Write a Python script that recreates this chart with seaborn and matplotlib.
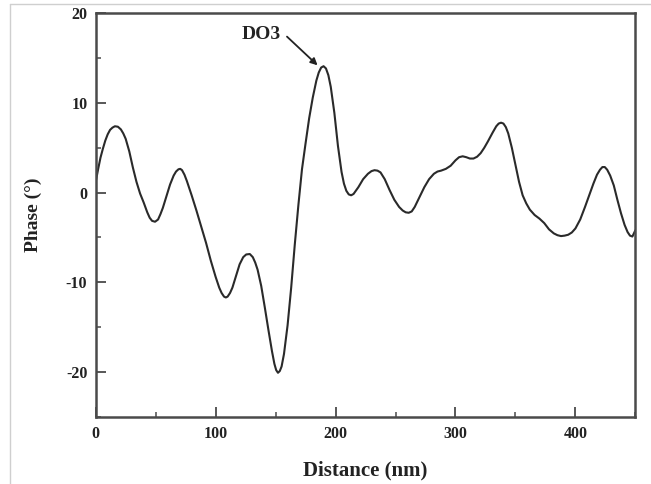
import matplotlib
matplotlib.use("Agg")
import matplotlib.pyplot as plt
from matplotlib.lines import Line2D
from matplotlib.ticker import MultipleLocator
import seaborn as sns
import pandas as pd

# Phase profile along the scan line
distance_nm = [
    0, 2, 4, 6, 8, 10, 12, 14, 16, 18.5, 21, 23, 25, 28, 31, 34, 37, 40, 43, 45,
    47, 49.5, 52, 54, 56, 59, 62, 65, 67, 69, 70.5, 72, 74, 76, 80, 84, 88, 92,
    96, 100, 103, 105, 107, 108.5, 110, 112, 114, 117, 120, 123, 125.5, 128.5,
    131, 133, 135, 138, 141, 144, 147, 149, 150.5, 152, 153.5, 155, 157, 160,
    163, 166, 169, 172, 175, 178, 181, 184, 186, 188, 190, 192, 194, 196, 199,
    202, 205, 207, 209, 211, 213, 215, 219, 223, 227, 230, 232.5, 235, 237.5,
    241, 245, 249, 253, 256, 258.5, 261, 263.5, 266, 270, 274, 278, 282, 285,
    288, 292, 296, 300, 303, 306, 309, 312, 315, 318, 321, 324, 327, 331, 334,
    336, 338, 340, 342, 344, 347, 350, 353, 356, 359, 362, 366, 370, 374, 378,
    382, 385, 388, 391, 394, 397, 400, 404, 408, 412, 415, 418, 420.5, 422.5,
    424.5, 426.5, 429, 432, 435, 438, 441, 443.5, 445.5, 447.5, 450,
]
phase_deg = [
    1.2, 2.6, 3.9, 4.9, 5.8, 6.5, 7.0, 7.25, 7.4, 7.35, 7.05, 6.6, 6.0, 4.6,
    2.8, 1.2, -0.1, -1.1, -2.2, -2.8, -3.15, -3.25, -3.0, -2.4, -1.7, -0.4, 0.9,
    1.9, 2.35, 2.6, 2.65, 2.5, 2.0, 1.3, -0.3, -2.0, -3.8, -5.6, -7.6, -9.4,
    -10.6, -11.2, -11.6, -11.7, -11.6, -11.2, -10.6, -9.3, -8.0, -7.2, -6.9,
    -6.85, -7.2, -7.8, -8.6, -10.4, -12.8, -15.3, -17.7, -19.1, -19.8, -20.1,
    -19.9, -19.4, -18.0, -14.8, -10.6, -5.8, -1.4, 2.6, 5.5, 8.3, 10.6, 12.5,
    13.4, 13.95, 14.1, 13.85, 13.1, 11.8, 8.9, 5.2, 2.3, 1.0, 0.2, -0.2, -0.3,
    -0.15, 0.6, 1.5, 2.1, 2.4, 2.5, 2.45, 2.25, 1.5, 0.3, -0.8, -1.6, -2.0,
    -2.2, -2.25, -2.1, -1.6, -0.5, 0.6, 1.5, 2.1, 2.35, 2.45, 2.65, 3.0, 3.6,
    3.95, 4.05, 3.95, 3.8, 3.8, 4.0, 4.4, 5.0, 5.7, 6.7, 7.4, 7.7, 7.8, 7.7,
    7.3, 6.6, 5.0, 3.1, 1.2, -0.3, -1.2, -1.9, -2.5, -2.9, -3.4, -4.1, -4.55,
    -4.75, -4.85, -4.8, -4.7, -4.45, -4.0, -3.0, -1.6, -0.1, 1.0, 2.0, 2.55,
    2.85, 2.85, 2.55, 1.9, 0.8, -0.8, -2.3, -3.6, -4.4, -4.8, -4.9, -4.2,
]

x_ticks = [0, 100, 200, 300, 400]
y_ticks = [-20, -10, 0, 10, 20]

peak_label = "DO3"
peak_text_pos = (138, 17.6)
arrow_start = (159.5, 17.4)
arrow_tip = (185, 14.2)

sns.set_theme(style="ticks")
plt.rcParams["font.family"] = ["Liberation Serif", "DejaVu Serif"]
plt.rcParams["font.weight"] = "bold"
plt.rcParams["axes.unicode_minus"] = False

df = pd.DataFrame({"Distance": distance_nm, "Phase": phase_deg})

fig = plt.figure(figsize=(6.51, 4.84), dpi=100)
fig.patch.set_facecolor("white")
ax = fig.add_axes([0.147, 0.139, 0.829, 0.8335])

sns.lineplot(data=df, x="Distance", y="Phase", ax=ax, color="#2a2a2a",
             linewidth=1.5, sort=False)

ax.set_xlim(0, 450)
ax.set_ylim(-25, 20)
ax.set_xticks(x_ticks)
ax.set_yticks(y_ticks)
ax.xaxis.set_minor_locator(MultipleLocator(50))
ax.yaxis.set_minor_locator(MultipleLocator(5))

for side in ["left", "bottom", "right", "top"]:
    ax.spines[side].set_visible(True)
    ax.spines[side].set_linewidth(1.8)
    ax.spines[side].set_color("#4a4a4a")

ax.tick_params(axis="both", which="major", direction="in", length=7, width=1.3,
               color="#4a4a4a", labelsize=11.5, top=False, right=False)
ax.tick_params(axis="both", which="minor", direction="in", length=3.5, width=1.1,
               color="#4a4a4a", top=False, right=False)
ax.tick_params(axis="y", which="major", pad=6)
ax.tick_params(axis="x", which="major", pad=7)
for lab in ax.get_xticklabels() + ax.get_yticklabels():
    lab.set_fontweight("bold")
    lab.set_color("#222222")

ax.set_xlabel("Distance (nm)", fontsize=15, fontweight="bold", color="#222222",
              labelpad=13)
ax.set_ylabel("Phase (°)", fontsize=14, fontweight="bold", color="#222222",
              labelpad=17)

ax.text(*peak_text_pos, peak_label, fontsize=14, fontweight="bold",
        color="#222222", ha="center", va="center")
ax.annotate("", xy=arrow_tip, xytext=arrow_start,
            arrowprops=dict(arrowstyle="-|>", color="#222222", lw=1.3,
                            mutation_scale=10, shrinkA=0, shrinkB=0))

# thin frame lines at the left and top of the figure
fig.add_artist(Line2D([9.5 / 651, 9.5 / 651], [0, 1 - 4.3 / 484],
                      transform=fig.transFigure, color="#cfcfcf", lw=1.0))
fig.add_artist(Line2D([9.5 / 651, 1], [1 - 4.3 / 484, 1 - 4.3 / 484],
                      transform=fig.transFigure, color="#cfcfcf", lw=1.0))

fig.savefig("out.png", dpi=100, facecolor="white")
